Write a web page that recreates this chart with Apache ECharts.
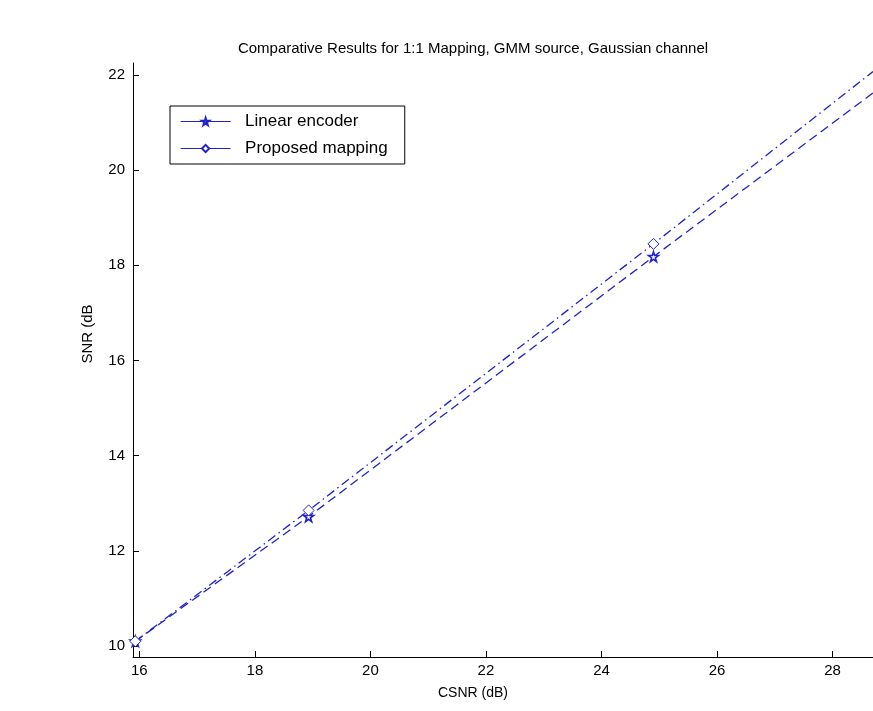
<!DOCTYPE html>
<html><head><meta charset="utf-8">
<script src="https://cdn.jsdelivr.net/npm/echarts@6/dist/echarts.min.js"></script>
<style>html,body{margin:0;padding:0;background:#fff}#c{width:873px;height:711px}</style>
</head><body><div id="c"></div>
<script>
const titleText = 'Comparative Results for 1:1 Mapping, GMM source, Gaussian channel';
const xName = 'CSNR (dB)';
const yName = 'SNR (dB';
const seriesNames = ['Linear encoder', 'Proposed mapping'];
const csnr = [15.93, 18.93, 24.9, 28.7];
const linearSNR = [10.1, 12.72, 18.18, 21.62];
const proposedSNR = [10.1, 12.85, 18.45, 22.07];
const showMarker = [true, true, true, false];
const xTicks = [16, 18, 20, 22, 24, 26, 28];
const yTicks = [10, 12, 14, 16, 18, 20, 22];

const FONT = '"Liberation Sans",Arial,sans-serif';
const BLUE = '#2222cc';
const STAR = 'path://M50,0 L61,35 L98,35 L68,57 L79,91 L50,70 L21,91 L32,57 L2,35 L39,35 Z';

function pts(ys){
  return csnr.map((x,i)=> showMarker[i] ? {value:[x, ys[i]]} : {value:[x, ys[i]], symbol:'none'});
}

const chart = echarts.init(document.getElementById('c'));
chart.setOption({
  backgroundColor:'#fff',
  animation:false,
  title:[
    {text:titleText,left:468,top:36,textAlign:'center',
      textStyle:{fontFamily:FONT,fontSize:15,fontWeight:'normal',color:'#000'}},
    {text:xName,left:468,top:681,textAlign:'center',
      textStyle:{fontFamily:FONT,fontSize:14,fontWeight:'normal',color:'#000'}}
  ],
  graphic:[{type:'text',x:80,y:334,rotation:Math.PI/2,
    style:{text:yName,fontFamily:FONT,fontSize:15,fill:'#000',align:'center',verticalAlign:'top'}}],
  grid:{left:133,top:63,right:0,bottom:54,containLabel:false},
  legend:{orient:'vertical',left:170,top:106,
    backgroundColor:'#fff',borderColor:'#000',borderWidth:1,
    padding:[7,17,7,10],itemGap:10,itemWidth:50,itemHeight:9,
    formatter:function(n){ return '  ' + n; },
    textStyle:{fontFamily:FONT,fontSize:17,color:'#000'},
    lineStyle:{type:'solid',color:BLUE,width:1.2},
    data:seriesNames},
  xAxis:{type:'value',min:15.89,max:28.7,
    axisLine:{onZero:false,lineStyle:{color:'#000',width:1}},
    axisTick:{inside:true,length:6,lineStyle:{color:'#000'},customValues:xTicks},
    axisLabel:{fontFamily:FONT,fontSize:15,color:'#000',margin:6,customValues:xTicks},
    splitLine:{show:false}},
  yAxis:{type:'value',min:9.77,max:22.25,
    axisLine:{onZero:false,lineStyle:{color:'#000',width:1}},
    axisTick:{inside:true,length:6,lineStyle:{color:'#000'},customValues:yTicks},
    axisLabel:{fontFamily:FONT,fontSize:15,color:'#000',margin:8,customValues:yTicks},
    splitLine:{show:false}},
  series:[
    {name:seriesNames[0],type:'line',data:pts(linearSNR),
      symbol:STAR,symbolSize:10,showAllSymbol:true,
      lineStyle:{color:BLUE,width:1.3,type:[9,5]},
      itemStyle:{color:'#fff',borderColor:BLUE,borderWidth:1.6}},
    {name:seriesNames[1],type:'line',data:pts(proposedSNR),
      symbol:'diamond',symbolSize:11,showAllSymbol:true,
      lineStyle:{color:BLUE,width:1.3,type:[9,4,1.5,4]},
      itemStyle:{color:'#fff',borderColor:BLUE,borderWidth:1}}
  ]
});
</script></body></html>
